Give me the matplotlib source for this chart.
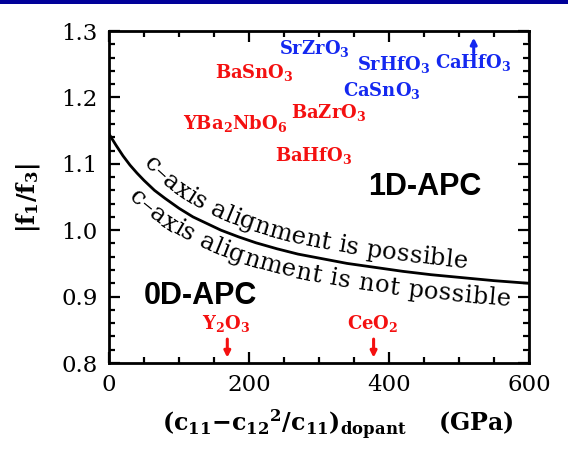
import numpy as np
import matplotlib
matplotlib.use("Agg")
import matplotlib.pyplot as plt
from matplotlib.font_manager import FontProperties
from matplotlib.patches import Rectangle
from matplotlib.ticker import MultipleLocator
from matplotlib.transforms import IdentityTransform

plt.rcParams["font.family"] = "DejaVu Serif"
plt.rcParams["mathtext.fontset"] = "custom"
plt.rcParams["mathtext.rm"] = "DejaVu Serif"
plt.rcParams["mathtext.bf"] = "DejaVu Serif:bold"
plt.rcParams["mathtext.it"] = "DejaVu Serif:italic"

# boundary curve
curve_x = [0, 10, 20, 30, 40, 50, 65, 80, 100, 120, 140, 160, 185, 210,
           240, 270, 300, 340, 380, 420, 460, 500, 550, 600]
curve_y = [1.145, 1.128, 1.112, 1.098, 1.086, 1.075, 1.060, 1.048, 1.033,
           1.020, 1.010, 1.000, 0.990, 0.981, 0.972, 0.964, 0.958, 0.950,
           0.944, 0.938, 0.933, 0.929, 0.924, 0.920]

# dopants
red_names = ["BaSnO$_\\mathbf{3}$", "YBa$_\\mathbf{2}$NbO$_\\mathbf{6}$",
             "BaZrO$_\\mathbf{3}$", "BaHfO$_\\mathbf{3}$"]
red_x = [207, 180, 314, 293]
red_y = [1.238, 1.160, 1.177, 1.113]

blue_names = ["SrZrO$_\\mathbf{3}$", "SrHfO$_\\mathbf{3}$",
              "CaSnO$_\\mathbf{3}$", "CaHfO$_\\mathbf{3}$"]
blue_x = [294, 407, 390, 521]
blue_y = [1.273, 1.249, 1.210, 1.252]

low_names = ["Y$_\\mathbf{2}$O$_\\mathbf{3}$", "CeO$_\\mathbf{2}$"]
low_x = [167, 376]
low_y = [0.860, 0.860]

RED = "#f41010"
BLUE = "#1428f0"


def along_curve(ax, text, x_start, x_end, offset, prop):
    """텍스트를 곡선을 따라 한 글자씩 배치 (x_start~x_end 구간에 맞춤)"""
    fig = ax.figure
    renderer = fig.canvas.get_renderer()
    pts = ax.transData.transform(np.column_stack([curve_x, curve_y]))
    tang = np.gradient(pts, axis=0)
    tang /= np.linalg.norm(tang, axis=1)[:, None]
    normal = np.column_stack([-tang[:, 1], tang[:, 0]])
    off = pts + normal * offset
    s = np.concatenate([[0], np.cumsum(np.hypot(*np.diff(off, axis=0).T))])
    ang_v = np.degrees(np.arctan2(tang[:, 1], tang[:, 0]))

    def width(t):
        return renderer.get_text_width_height_descent(t, prop, ismath=False)[0]

    w_space = width("a a") - width("aa")
    widths = [w_space if ch == " " else width(ch) for ch in text]
    s0 = np.interp(ax.transData.transform((x_start, 1.0))[0], off[:, 0], s)
    s1 = np.interp(ax.transData.transform((x_end, 1.0))[0], off[:, 0], s)
    extra = (s1 - s0 - sum(widths)) / (len(text) - 1)
    pos = s0
    for ch, w in zip(text, widths):
        sc = pos + w / 2
        px = np.interp(sc, s, off[:, 0])
        py = np.interp(sc, s, off[:, 1])
        ang = np.interp(sc, s, ang_v)
        fig.text(px, py, ch, transform=IdentityTransform(), rotation=ang,
                 rotation_mode="anchor", ha="center", va="baseline",
                 fontproperties=prop)
        pos += w + extra


fig = plt.figure(figsize=(5.68, 4.49), dpi=100)
ax = fig.add_axes([109 / 568, 1 - 363 / 449, 420 / 568, 332 / 449])

# top banner
fig.add_artist(Rectangle((0, 1 - 4 / 449), 1, 4 / 449,
                         transform=fig.transFigure, color="#000099", lw=0))

ax.plot(curve_x, curve_y, color="black", lw=2)

for name, x, y in zip(red_names, red_x, red_y):
    ax.text(x, y, name, color=RED, fontsize=13, fontweight="bold",
            ha="center", va="center")
for name, x, y in zip(blue_names, blue_x, blue_y):
    ax.text(x, y, name, color=BLUE, fontsize=13, fontweight="bold",
            ha="center", va="center")
for name, x, y in zip(low_names, low_x, low_y):
    ax.text(x, y, name, color=RED, fontsize=13, fontweight="bold",
            ha="center", va="center")
    ax.annotate("", xy=(x + 2, 0.808), xytext=(x + 2, 0.836),
                arrowprops=dict(arrowstyle="-|>", color=RED, lw=2.2,
                                mutation_scale=9, shrinkA=0, shrinkB=0))

# CaHfO3 value is off the top of the scale
ax.annotate("", xy=(blue_x[3], 1.290), xytext=(blue_x[3], 1.267),
            arrowprops=dict(arrowstyle="-|>", color=BLUE, lw=2.2,
                            mutation_scale=9, shrinkA=0, shrinkB=0))

ax.text(451, 1.065, "1D-APC", family="Liberation Sans", fontweight="bold",
        fontsize=22, ha="center", va="center")
ax.text(131, 0.901, "0D-APC", family="Liberation Sans", fontweight="bold",
        fontsize=22, ha="center", va="center")

ax.set_xlim(0, 600)
ax.set_ylim(0.8, 1.3)
ax.set_xticks([0, 200, 400, 600])
ax.set_yticks([0.8, 0.9, 1.0, 1.1, 1.2, 1.3])
ax.set_yticklabels(["0.8", "0.9", "1.0", "1.1", "1.2", "1.3"])
ax.xaxis.set_minor_locator(MultipleLocator(50))
ax.yaxis.set_minor_locator(MultipleLocator(0.02))
ax.tick_params(which="both", direction="in", top=True, right=True,
               width=1.6, labelsize=16.5)
ax.tick_params(which="major", length=8)
ax.tick_params(which="minor", length=4.5)
ax.tick_params(axis="x", pad=8)
ax.tick_params(axis="y", pad=8)
for sp in ax.spines.values():
    sp.set_linewidth(2)

fig.text(338 / 568, 1 - 425 / 449,
         r"$\mathbf{(c_{11}{-}c_{12}{}^{2}/c_{11})_{dopant}}$    (GPa)",
         fontsize=17, fontweight="bold", ha="center", va="center")
fig.text(28 / 568, 1 - 198 / 449, r"$\mathbf{|f_1/f_3|}$", fontsize=17,
         rotation=90, ha="center", va="center")

fig.canvas.draw()
prop = FontProperties(family="DejaVu Serif", size=17.5)
along_curve(ax, "c–axis alignment is possible", 48, 511, 10, prop)
along_curve(ax, "c–axis alignment is not possible", 27, 573, -24, prop)

fig.savefig("out.png", dpi=100)
